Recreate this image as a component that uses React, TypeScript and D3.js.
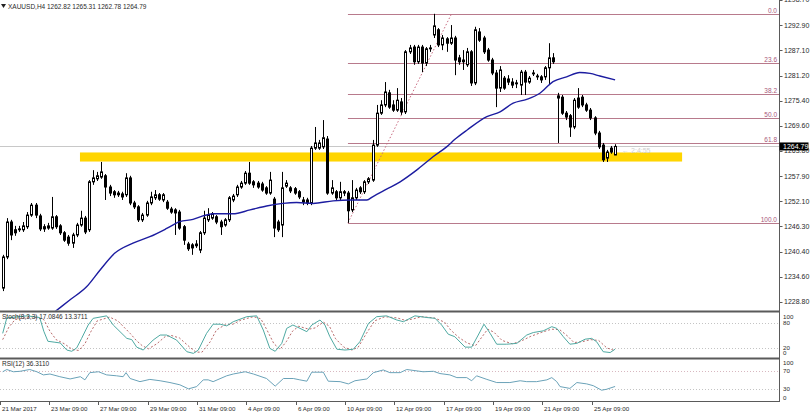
import React from "react";
import * as d3 from "d3";

// ---- price data (XAUUSD H4) ----
const candleOpen = [1232.0,1239.2,1247.3,1245.5,1245.7,1245.5,1246.2,1248.9,1251.2,1248.7,1246.2,1245.9,1245.9,1248.5,1246.4,1244.8,1243.8,1242.4,1244.3,1246.6,1248.2,1245.5,1256.6,1257.3,1257.7,1258.0,1255.4,1254.3,1254.0,1253.8,1253.6,1257.5,1251.7,1250.8,1247.8,1248.9,1251.7,1252.9,1253.6,1252.4,1251.9,1250.3,1250.1,1249.6,1246.2,1242.2,1242.0,1241.8,1240.8,1244.8,1247.8,1248.2,1248.5,1247.3,1246.6,1247.8,1252.4,1253.6,1255.4,1256.3,1258.6,1256.6,1256.3,1256.1,1255.2,1254.0,1252.6,1247.3,1246.6,1255.6,1255.2,1255.0,1254.3,1252.4,1252.4,1251.7,1264.4,1264.4,1264.7,1266.5,1254.0,1254.3,1252.9,1254.3,1254.0,1250.1,1252.9,1255.2,1254.3,1256.6,1257.0,1265.1,1272.5,1274.4,1277.2,1274.4,1273.2,1275.1,1272.8,1286.7,1287.8,1284.4,1287.8,1284.1,1287.4,1290.6,1291.8,1288.3,1289.7,1288.7,1289.9,1285.3,1284.8,1283.7,1286.7,1279.5,1291.3,1289.9,1287.1,1284.8,1281.8,1278.3,1280.6,1280.4,1279.7,1279.5,1279.0,1282.0,1279.7,1281.6,1281.1,1280.9,1280.9,1283.0,1285.3,1276.0,1276.2,1272.5,1271.9,1269.3,1276.0,1276.2,1274.4,1273.2,1271.4,1267.9,1265.1,1262.1,1264.4,1262.82];
const candleHigh = [1239.7,1248.2,1247.8,1246.4,1246.4,1247.3,1249.6,1251.7,1251.7,1249.2,1246.8,1247.1,1253.1,1248.9,1246.8,1245.2,1244.3,1244.8,1247.1,1249.9,1248.7,1257.0,1259.3,1258.9,1261.2,1258.4,1255.9,1254.7,1254.5,1254.3,1258.6,1258.0,1252.2,1251.2,1249.4,1252.2,1254.3,1254.7,1254.0,1254.0,1252.4,1250.8,1250.5,1250.1,1246.6,1242.7,1242.4,1243.1,1245.2,1249.9,1250.5,1249.6,1248.9,1247.8,1248.2,1253.3,1253.8,1255.9,1256.8,1259.1,1261.2,1257.0,1256.8,1256.6,1255.6,1258.9,1253.1,1247.8,1258.9,1257.0,1255.6,1255.4,1254.7,1253.1,1252.9,1264.9,1269.3,1266.3,1270.9,1267.2,1257.0,1254.7,1256.6,1254.7,1254.5,1257.0,1255.2,1255.6,1257.0,1257.7,1266.3,1274.4,1275.5,1279.7,1277.9,1275.5,1278.3,1276.0,1287.1,1288.3,1288.3,1288.3,1288.3,1287.8,1288.3,1295.5,1292.2,1290.6,1290.1,1292.9,1290.4,1286.0,1287.1,1287.6,1287.1,1292.5,1292.2,1290.4,1287.6,1285.3,1282.5,1283.4,1281.1,1281.3,1280.6,1280.2,1282.5,1282.5,1281.1,1282.5,1281.6,1281.3,1283.4,1288.7,1286.4,1277.2,1276.7,1273.0,1272.3,1276.0,1278.3,1276.7,1274.9,1273.7,1271.8,1268.4,1265.6,1264.0,1264.9,1265.31];
const candleLow = [1231.3,1238.7,1243.1,1244.1,1245.0,1245.0,1245.7,1248.5,1248.2,1245.2,1245.0,1245.5,1245.5,1245.7,1244.3,1242.7,1241.8,1241.3,1243.8,1246.2,1244.5,1245.0,1255.9,1256.8,1257.3,1252.4,1253.3,1252.9,1253.1,1252.4,1253.1,1251.2,1250.3,1247.3,1247.3,1248.5,1251.2,1252.4,1252.2,1251.9,1250.1,1249.2,1244.3,1245.5,1242.0,1240.6,1239.7,1241.3,1240.1,1244.3,1247.3,1247.8,1246.8,1244.3,1246.2,1247.3,1251.9,1253.1,1255.0,1255.9,1255.9,1255.2,1255.0,1254.3,1253.6,1253.6,1243.8,1245.0,1243.8,1255.2,1254.0,1253.6,1252.6,1251.2,1251.2,1251.2,1264.0,1264.0,1264.2,1253.6,1253.6,1252.4,1252.4,1253.3,1247.1,1249.6,1252.4,1253.8,1253.8,1256.1,1256.6,1264.7,1272.1,1273.9,1273.5,1272.8,1272.8,1272.1,1272.3,1286.2,1283.7,1283.9,1282.0,1283.4,1286.7,1289.9,1287.8,1287.1,1286.7,1288.3,1281.3,1283.7,1282.5,1283.2,1278.8,1279.0,1289.0,1286.2,1284.4,1281.3,1273.9,1277.4,1277.9,1279.0,1278.3,1278.3,1276.7,1276.7,1279.3,1281.1,1280.2,1279.5,1280.2,1279.0,1283.9,1265.6,1272.1,1270.9,1267.0,1268.8,1273.5,1273.9,1272.8,1270.9,1267.4,1264.2,1261.2,1261.2,1263.1,1262.78];
const candleClose = [1239.2,1247.3,1244.3,1244.8,1245.5,1246.4,1248.9,1251.2,1248.9,1245.7,1245.7,1246.4,1248.5,1246.2,1244.8,1243.1,1242.4,1244.3,1246.6,1248.2,1245.0,1256.6,1257.5,1258.0,1258.9,1255.4,1254.0,1253.6,1253.6,1253.1,1257.5,1251.7,1250.8,1247.8,1248.9,1251.7,1253.1,1253.6,1252.6,1253.6,1250.5,1249.6,1249.4,1245.9,1243.1,1241.1,1241.3,1242.2,1244.8,1248.2,1248.9,1249.2,1247.3,1246.2,1247.8,1252.9,1253.3,1255.4,1256.3,1258.6,1256.3,1255.9,1255.4,1254.7,1254.0,1257.0,1245.9,1245.5,1255.2,1256.3,1254.5,1254.0,1253.1,1251.9,1251.7,1264.4,1265.6,1265.6,1266.8,1254.0,1255.2,1252.9,1254.3,1254.0,1249.9,1252.9,1254.7,1254.3,1256.6,1257.3,1265.1,1272.5,1274.4,1277.4,1273.9,1273.2,1275.5,1272.8,1286.7,1287.6,1284.4,1287.8,1284.1,1287.4,1287.6,1292.7,1288.3,1289.9,1288.7,1289.9,1284.8,1284.4,1284.4,1286.7,1279.5,1291.8,1289.4,1286.7,1284.8,1281.8,1278.3,1282.5,1278.3,1279.7,1279.0,1279.3,1282.0,1279.7,1280.6,1281.8,1280.9,1280.2,1283.0,1285.3,1284.4,1276.5,1272.5,1271.6,1269.3,1275.5,1273.9,1274.4,1273.2,1271.4,1267.9,1264.7,1261.7,1263.5,1263.5,1264.79];

// moving average (bar index, value)
const maIdx = [12,16.4,20.4,23.7,27.3,31.7,35.8,39.9,43.1,46.3,48.7,51.2,56,60.2,64.2,68.2,71.5,75.5,80.4,84.5,88.6,90.1,93.4,96.7,100.7,104.7,108,110.1,113,117.8,121,124.2,127.5,130.7,133.9,137.2,140.4,142.9,145.3,149];
const maVal = [1226.0,1229.3,1232.3,1236.2,1240.1,1242.4,1243.9,1245.8,1247.4,1247.9,1248.7,1249.2,1249.2,1250.1,1251.0,1251.6,1251.8,1251.6,1252.2,1252.4,1252.4,1253.2,1254.9,1256.6,1259.3,1262.4,1264.7,1266.5,1268.6,1271.7,1272.8,1274.8,1275.7,1277.1,1279.8,1280.9,1281.9,1281.7,1281.1,1280.2];

// stochastic (8,3,3)
const stochKIdx = [0,1,3,6,9,10,11,12.5,14,15.6,16.8,18,19.2,20.8,22,25.3,26.9,30.2,31.4,32.6,34.2,36.6,38.3,39.9,42.3,44.8,46.4,47.6,49.6,51.2,52.9,54.5,56.1,59.4,61.8,63.4,65,66.3,67.9,69.1,70.6,71.5,74,75.2,77.2,78.4,79.6,81.3,83.3,85.3,86.9,89,91,93.4,95.9,97.5,99.1,100.3,103.2,105.2,106.8,108.4,110,112.5,114.1,115.7,117.1,118.6,120.2,122.6,125.1,127.5,129.1,131.5,133.6,134.8,136.4,138,139.7,141.7,143.3,144.5,146.1,147.8,149];
const stochKVal = [55,92,94,97,93,60,36,34,32,15,12,20,43,75,91,97,75,43,40,22,15,39,51,51,39,11,7,15,55,77,77,73,83,95,97,63,19,12,31,67,75,71,59,75,87,75,47,17,15,17,35,79,95,97,87,83,91,97,93,91,75,53,47,22,22,51,77,55,29,29,31,51,57,61,71,67,47,29,31,41,43,35,11,9,17.08];
const stochDIdx = [0,1.5,3,7,10,11.5,13,15,17,18.5,20,21.5,23,26,28,31,32.5,34,35.5,37.5,39.5,41,43,45.5,47,48.5,50.5,52,54,56,58,61,62.8,64.2,66,67.5,69,70.5,72,74.5,76,78,79.5,81,83,85,86.5,88.5,90.5,93,96,98,100,102,105,107.5,109,111,113,115,116.5,118,119.5,121.5,124,126,128.5,131,133.5,135.5,137.5,139,141,143,145,147,149];
const stochDVal = [40,70,88,95,88,60,40,30,16,14,30,60,85,94,85,55,38,25,18,30,47,50,44,22,10,10,35,63,75,77,87,95,90,65,30,17,35,60,72,65,68,82,72,42,22,15,22,55,85,95,92,86,90,95,92,82,63,45,32,25,45,65,58,38,30,36,48,57,65,64,48,33,35,40,38,20,13.37];

// RSI(12)
const rsiIdx = [0,1,2.6,4.2,6.6,8.3,9.9,11.5,13.9,16.4,18.9,20,21.2,23.3,25.3,27.7,29.3,30,31,33.4,35.8,38.3,40.7,43.1,45.2,47.2,48.8,50,51.2,54.5,56.1,59,61,64.2,66.3,68.3,70.7,72.3,74,75.2,78,79.2,82.1,84.1,85.7,88.6,90.2,92.6,94.2,96.7,98.3,102.3,104.8,106.4,108.8,110.5,112.9,114.1,115.3,117.8,120.2,123.4,125.9,127.5,129.9,132.4,133.6,134.8,135.6,138,139.7,142.1,143.7,145.7,146.9,149];
const rsiVal = [69,74,69,70,74,69,62,64,58,53,58,51,67,69,62,60,58,67,54,47,52,49,45,40,31,36,51,51,47,60,64,69,64,54,37,54,54,51,48,68,68,48,47,42,49,53,67,73,67,67,74,69,70,65,62,56,56,49,60,52,45,45,49,47,47,51,56,47,36,32,45,42,38,28,30,36.31];

// price axis
const priceTickValues = [1298.7,1292.9,1287.1,1281.2,1275.4,1269.6,1263.8,1257.9,1252.1,1246.3,1240.4,1234.6,1228.8];
const priceTickLabels = ["1298.70","1292.90","1287.10","1281.20","1275.40","1269.60","1263.80","1257.90","1252.10","1246.30","1240.40","1234.60","1228.80"];
const dateLabels = ["21 Mar 2017","23 Mar 09:00","27 Mar 09:00","29 Mar 09:00","31 Mar 09:00","4 Apr 09:00","6 Apr 09:00","10 Apr 09:00","12 Apr 09:00","17 Apr 09:00","19 Apr 09:00","21 Apr 09:00","25 Apr 09:00"];
const barsPerDateLabel = 12;

// fibonacci retracement
const fibLevels = [0, 23.6, 38.2, 50, 61.8, 100];
const fibLabels = ["0.0","23.6","38.2","50.0","61.8","100.0"];
const fibLowBar = 84, fibLowPrice = 1247.1;
const fibHighBar = 109.2, fibHighPrice = 1295.5;

// support zone
const zoneFromBar = 18.8, zoneToBar = 165.3;
const zoneLow = 1261.3, zoneHigh = 1263.4;

const lastOHLC = [1262.82, 1265.31, 1262.78, 1264.79];

const FONT = "'Liberation Sans', Arial, sans-serif";
const TXT = "#2a2a2a";

export default function App() {
  const W = 810, H = 415;
  const axisX = 779.5;
  const x = d3.scaleLinear().domain([0, 149]).range([2.7, 615.1]);
  const y = d3.scaleLinear().domain([1228.8, 1298.7]).range([301.9, 0]);
  const yS = d3.scaleLinear().domain([0, 100]).range([356.3, 314.6]);
  const yR = d3.scaleLinear().domain([0, 100]).range([402.8, 357.8]);

  const maLine = d3.line<number>().x((_, i) => x(maIdx[i])).y((d) => y(d)).curve(d3.curveMonotoneX);
  const kLine = d3.line<number>().x((_, i) => x(stochKIdx[i])).y((d) => yS(d));
  const dLine = d3.line<number>().x((_, i) => x(stochDIdx[i])).y((d) => yS(d));
  const rLine = d3.line<number>().x((_, i) => x(rsiIdx[i])).y((d) => yR(d));

  const fibPrice = (lv: number) => fibHighPrice - (fibHighPrice - fibLowPrice) * lv / 100;
  const last = lastOHLC[3];
  const tickOffset = -0.7;

  return (
    <svg width={W} height={H} style={{ position: "absolute", left: 0, top: 0, display: "block", background: "#fff" }}
      fontFamily={FONT}>
      <defs>
        <clipPath id="cp"><rect x={0} y={0} width={axisX} height={310.5} /></clipPath>
        <clipPath id="cs"><rect x={0} y={312.5} width={axisX} height={45} /></clipPath>
        <clipPath id="cr"><rect x={0} y={359.5} width={axisX} height={41.5} /></clipPath>
      </defs>
      <rect x={0} y={0} width={W} height={H} fill="#fff" />

      {/* price panel */}
      <g clipPath="url(#cp)">
        <rect x={x(zoneFromBar)} y={y(zoneHigh)} width={x(zoneToBar) - x(zoneFromBar)} height={y(zoneLow) - y(zoneHigh)} fill="#FFD500" />
        <line x1={0} x2={axisX} y1={Math.round(y(last)) + 0.5} y2={Math.round(y(last)) + 0.5} stroke="#c8c8c8" strokeWidth={1} />
        {fibLevels.map((lv, i) => {
          const yy = Math.round(y(fibPrice(lv))) + 0.5;
          return (
            <g key={"f" + i}>
              <line x1={x(fibLowBar)} x2={axisX} y1={yy} y2={yy} stroke="#b87a8c" strokeWidth={1} />
              <text x={777} y={yy - 1.5} fontSize={6.5} fill="#a8587a" textAnchor="end">{fibLabels[i]}</text>
            </g>
          );
        })}
        <line x1={x(fibLowBar)} y1={y(fibLowPrice)} x2={x(fibHighBar)} y2={y(fibHighPrice)} stroke="#c86a80" strokeWidth={1} strokeDasharray="1.5,2" />
        {candleOpen.map((o, i) => {
          const c = Math.round(x(i)) + 0.5;
          const cl = candleClose[i];
          const bull = cl >= o;
          const top = y(Math.max(o, cl));
          const bot = y(Math.min(o, cl));
          return (
            <g key={"c" + i}>
              <line x1={c} x2={c} y1={y(candleHigh[i])} y2={y(candleLow[i])} stroke="#000" strokeWidth={1} />
              <rect x={c - 1} y={top} width={2} height={Math.max(bot - top, 0.6)} fill={bull ? "#fff" : "#000"} stroke="#000" strokeWidth={1} />
            </g>
          );
        })}
        <path d={maLine(maVal) || ""} fill="none" stroke="#1c1ca0" strokeWidth={1.4} />
        <text x={x(149) + 7} y={y(zoneHigh) + 1} fontSize={7} fill="#cfcfcf">{"\u2190 2:4:55"}</text>
      </g>

      {/* title */}
      <path d="M1,4 L6,4 L3.5,8 Z" fill="#222" />
      <text x={8} y={8.5} fontSize={6.5} fill={TXT}>{"XAUUSD,H4  " + lastOHLC.map((v) => v.toFixed(2)).join(" ")}</text>

      {/* stochastic panel */}
      {[80, 20].map((lv) => (
        <line key={"sl" + lv} x1={0} x2={axisX} y1={Math.round(yS(lv)) + 0.5} y2={Math.round(yS(lv)) + 0.5} stroke="#c4c4c4" strokeDasharray="1,2" />
      ))}
      <g clipPath="url(#cs)">
        <path d={dLine(stochDVal) || ""} fill="none" stroke="#b05a5a" strokeWidth={0.9} strokeDasharray="2,2" />
        <path d={kLine(stochKVal) || ""} fill="none" stroke="#4fa9a2" strokeWidth={1} />
      </g>
      <text x={2} y={319} fontSize={6.5} fill={TXT}>{"Stoch(8,3,3) 17.0846 13.3711"}</text>

      {/* RSI panel */}
      {[70, 30].map((lv) => (
        <line key={"rl" + lv} x1={0} x2={axisX} y1={Math.round(yR(lv)) + 0.5} y2={Math.round(yR(lv)) + 0.5} stroke={lv === 70 ? "#d8b8c0" : "#c4c4c4"} strokeDasharray="1,2" />
      ))}
      <g clipPath="url(#cr)">
        <path d={rLine(rsiVal) || ""} fill="none" stroke="#6aa2b8" strokeWidth={1} />
      </g>
      <text x={2} y={365.5} fontSize={6.5} fill={TXT}>{"RSI(12) 36.3110"}</text>

      {/* frames */}
      <line x1={0} x2={axisX} y1={311.5} y2={311.5} stroke="#5a5a5a" strokeWidth={2} />
      <line x1={0} x2={axisX} y1={358.5} y2={358.5} stroke="#5a5a5a" strokeWidth={2} />
      <line x1={0} x2={axisX} y1={401.5} y2={401.5} stroke="#5a5a5a" strokeWidth={1} />
      <line x1={axisX} x2={axisX} y1={0} y2={402} stroke="#5a5a5a" strokeWidth={1} />

      {/* price axis */}
      {priceTickValues.map((v, i) => (
        <g key={"pt" + i}>
          <line x1={axisX} x2={axisX + 3} y1={Math.round(y(v)) + 0.5} y2={Math.round(y(v)) + 0.5} stroke="#5a5a5a" />
          <text x={784} y={y(v)} dy="0.35em" fontSize={7} fill={TXT}>{priceTickLabels[i]}</text>
        </g>
      ))}
      <rect x={axisX} y={y(last) - 4} width={29} height={8} fill="#000" />
      <text x={783} y={y(last)} dy="0.35em" fontSize={7} fill="#fff">{last.toFixed(2)}</text>

      {/* indicator scales */}
      <text x={783} y={yS(100) + 2} dy="0.35em" fontSize={6.2} fill={TXT}>100</text>
      <text x={783} y={yS(80)} dy="0.35em" fontSize={6.2} fill={TXT}>80</text>
      <text x={783} y={yS(20)} dy="0.35em" fontSize={6.2} fill={TXT}>20</text>
      <text x={783} y={yS(0) - 3} dy="0.35em" fontSize={6.2} fill={TXT}>0</text>
      <text x={783} y={yR(100) + 5} dy="0.35em" fontSize={6.2} fill={TXT}>100</text>
      <text x={783} y={yR(70)} dy="0.35em" fontSize={6.2} fill={TXT}>70</text>
      <text x={783} y={yR(30)} dy="0.35em" fontSize={6.2} fill={TXT}>30</text>
      <text x={783} y={yR(0) - 5} dy="0.35em" fontSize={6.2} fill={TXT}>0</text>

      {/* time axis */}
      {dateLabels.map((lab, k) => {
        const tx = Math.round(x(k * barsPerDateLabel + tickOffset)) + 0.5;
        return (
          <g key={"d" + k}>
            <line x1={tx} x2={tx} y1={402} y2={405} stroke="#5a5a5a" />
            <text x={tx + 1.5} y={408.5} dy="0.35em" fontSize={6.2} fill={TXT}>{lab}</text>
          </g>
        );
      })}
    </svg>
  );
}
